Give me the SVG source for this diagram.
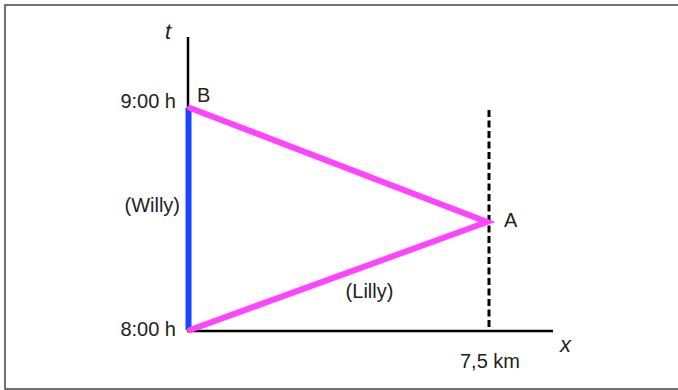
<svg xmlns="http://www.w3.org/2000/svg" width="678" height="390" viewBox="0 0 678 390">
<style>
text{font-family:"Liberation Sans",Arial,sans-serif;font-size:20px;fill:#222}
.it{font-style:italic;font-size:22px}
.ax{stroke:#000;stroke-width:2.5;fill:none}
.lilly{stroke:#ff44ff;stroke-width:6;fill:none;stroke-linecap:round;stroke-linejoin:miter}
</style>
<rect x="0" y="0" width="678" height="390" fill="#fff"/>
<rect x="5" y="5" width="700" height="384" fill="none" stroke="#444" stroke-width="1.5"/>
<g id="axes">
<line class="ax" x1="188" y1="37" x2="188" y2="331"/>
<line class="ax" x1="187" y1="331" x2="553" y2="331"/>
<text class="it" x="165" y="39">t</text>
<text class="it" x="560" y="352">x</text>
</g>
<g id="connectors">
<line x1="489" y1="110" x2="489" y2="331" stroke="#000" stroke-width="3" stroke-dasharray="7,3.5"/>
<line x1="188.5" y1="108" x2="188.5" y2="330" stroke="#1a44ff" stroke-width="6"/>
<polyline class="lilly" points="190,108 487,222 190,330"/>
</g>
<g id="labels">
<text x="176" y="108" text-anchor="end">9:00 h</text>
<text x="197" y="102">B</text>
<text x="180" y="212" text-anchor="end">(Willy)</text>
<text x="504" y="227">A</text>
<text x="369.5" y="298" text-anchor="middle">(Lilly)</text>
<text x="176" y="336" text-anchor="end">8:00 h</text>
<text x="490" y="368" text-anchor="middle">7,5 km</text>
</g>
</svg>
